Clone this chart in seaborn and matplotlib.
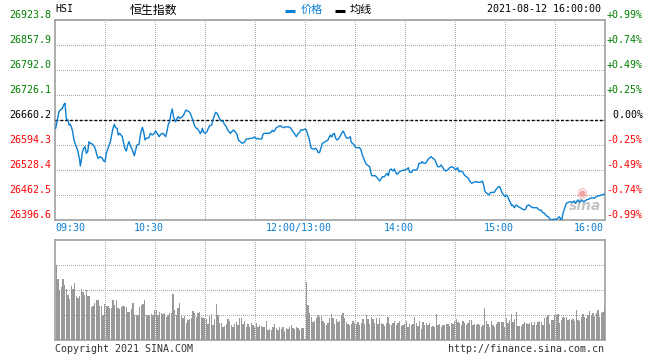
import matplotlib
matplotlib.use("Agg")
import matplotlib.pyplot as plt
import matplotlib.transforms as mtransforms
from matplotlib.lines import Line2D
import numpy as np
import seaborn as sns

# Axis levels (previous close in the middle, +/-0.99% at the edges)
prev_close = 26660.2
price_ticks = [26923.8, 26857.9, 26792.0, 26726.1, 26660.2, 26594.3, 26528.4, 26462.5, 26396.6]
pct_labels = ["+0.99%", "+0.74%", "+0.49%", "+0.25%", " 0.00%", "-0.25%", "-0.49%", "-0.74%", "-0.99%"]

# trading minutes since 09:30 (lunch break removed)
time_ticks = [0, 60, 150, 210, 270, 330]
time_labels = ["09:30", "10:30", "12:00/13:00", "14:00", "15:00", "16:00"]
grid_minutes = list(range(30, 330, 30))

# Intraday price
price_minutes = [
    0.4, 1.2, 2.4, 3.2, 4.4, 5.4, 6.0, 6.4, 6.8, 7.8, 8.4, 9.2, 10.4, 11.2, 12.0, 12.8, 13.8, 14.8, 15.2, 15.8,
    16.4, 17.2, 18.0, 18.8, 19.6, 20.4, 21.2, 22.4, 23.6, 24.4, 25.2, 26.0, 27.2, 28.4, 29.2, 30.0, 30.8, 31.6,
    32.4, 33.2, 34.0, 34.8, 35.6, 36.4, 37.2, 38.0, 38.8, 39.6, 40.4, 41.2, 42.0, 42.8, 43.6, 44.4, 45.2, 46.0,
    46.8, 47.6, 48.4, 49.2, 50.4, 51.2, 52.0, 52.4, 53.2, 54.0, 54.8, 56.4, 57.2, 58.4, 59.6, 60.4, 61.6, 62.4,
    63.6, 64.8, 65.6, 66.4, 67.2, 68.0, 68.8, 69.6, 70.4, 71.0, 71.6, 72.4, 73.2, 74.0, 74.8, 75.6, 76.4, 77.2,
    78.0, 78.8, 79.6, 80.4, 81.2, 82.0, 82.8, 83.6, 84.4, 85.6, 86.4, 87.2, 88.0, 88.4, 89.2, 90.0, 91.2, 92.0,
    92.8, 94.0, 94.8, 95.6, 96.4, 97.2, 98.0, 98.8, 99.6, 100.8, 101.6, 102.8, 103.6, 104.4, 105.2, 106.0,
    107.2, 108.0, 109.2, 110.0, 111.6, 112.4, 113.6, 114.8, 116.0, 117.2, 118.4, 119.6, 120.8, 121.6, 122.4,
    124.0, 124.8, 125.6, 128.4, 129.6, 130.4, 131.2, 132.0, 132.8, 133.6, 135.2, 136.0, 137.2, 138.8, 140.4,
    141.6, 142.4, 143.6, 144.8, 145.6, 146.8, 147.6, 148.8, 150.0, 150.8, 151.6, 152.4, 153.2, 153.6, 154.4,
    155.6, 156.4, 157.2, 158.0, 158.8, 159.6, 160.4, 161.6, 162.8, 163.6, 164.4, 165.2, 166.0, 166.8, 167.6,
    168.4, 169.2, 170.4, 171.2, 172.0, 172.8, 173.6, 174.4, 175.2, 176.4, 177.2, 177.6, 178.4, 179.2, 180.0,
    180.8, 182.8, 183.6, 184.4, 185.2, 186.0, 186.8, 188.0, 188.8, 189.6, 190.0, 192.0, 192.8, 193.6, 194.8,
    195.6, 196.4, 197.6, 198.4, 199.2, 200.0, 200.8, 201.6, 202.8, 203.6, 204.4, 205.2, 206.4, 207.6, 208.8,
    210.0, 211.2, 212.0, 212.8, 214.0, 214.8, 216.8, 217.6, 218.4, 219.6, 220.4, 221.2, 222.4, 223.6, 224.8,
    225.6, 226.8, 228.0, 228.8, 229.6, 230.8, 231.6, 232.4, 233.2, 234.4, 235.6, 236.8, 238.0, 239.2, 240.4,
    241.6, 242.4, 243.6, 244.8, 245.6, 246.8, 248.0, 248.8, 250.0, 251.2, 252.0, 253.6, 255.2, 256.4, 257.2,
    258.0, 259.2, 260.4, 261.2, 262.4, 263.6, 264.4, 265.2, 266.0, 266.8, 267.6, 268.4, 269.2, 270.0, 270.8,
    271.6, 272.4, 273.2, 274.0, 274.8, 275.6, 276.8, 278.0, 279.2, 280.4, 281.6, 282.4, 283.2, 284.4, 285.6,
    286.8, 288.0, 289.2, 290.4, 291.6, 292.4, 293.6, 294.8, 296.0, 296.8, 298.0, 299.2, 300.4, 301.2, 302.4,
    303.2, 304.0, 304.8, 305.8, 306.8, 308.0, 309.2, 310.4, 311.6, 312.4, 313.6, 314.8, 316.0, 317.2, 318.8,
    320.4, 322.0, 323.6, 324.8, 326.4, 328.0, 329.2, 330.0,
]
prices = [
    26638.3, 26655.7, 26682.1, 26686.6, 26691.0, 26701.6, 26704.2, 26682.1, 26662.8, 26660.2, 26647.0, 26648.9,
    26633.8, 26612.0, 26598.8, 26589.8, 26576.6, 26554.8, 26538.9, 26554.8, 26575.1, 26585.6, 26589.8, 26572.4,
    26576.6, 26603.0, 26598.8, 26596.9, 26589.8, 26581.1, 26566.1, 26559.2, 26563.5, 26559.2, 26552.1, 26550.3,
    26572.4, 26583.0, 26592.5, 26603.0, 26620.7, 26638.3, 26648.9, 26639.9, 26638.3, 26620.7, 26625.1, 26620.7,
    26616.2, 26598.8, 26583.8, 26578.5, 26594.3, 26603.0, 26592.5, 26585.6, 26576.6, 26566.1, 26581.1, 26594.3,
    26596.2, 26620.7, 26633.8, 26641.0, 26629.4, 26607.5, 26612.0, 26613.5, 26625.1, 26620.7, 26625.1, 26631.2,
    26623.3, 26616.2, 26623.3, 26625.1, 26620.7, 26616.2, 26631.2, 26648.9, 26655.7, 26677.9, 26689.2, 26671.5,
    26662.8, 26655.7, 26664.7, 26668.9, 26664.7, 26666.3, 26668.9, 26673.4, 26682.1, 26686.6, 26683.9, 26682.1,
    26677.9, 26668.9, 26657.6, 26647.0, 26639.9, 26636.5, 26631.2, 26624.1, 26631.2, 26638.3, 26627.8, 26625.1,
    26629.4, 26638.3, 26645.2, 26647.0, 26660.2, 26671.5, 26680.5, 26677.9, 26671.5, 26662.8, 26657.6, 26657.6,
    26648.9, 26642.5, 26633.8, 26629.4, 26625.1, 26629.4, 26633.8, 26629.4, 26622.5, 26607.5, 26601.4, 26598.8,
    26601.4, 26610.1, 26610.1, 26612.0, 26612.0, 26615.4, 26610.1, 26612.0, 26610.1, 26610.1, 26622.5, 26625.1,
    26625.1, 26627.8, 26633.0, 26629.4, 26633.8, 26639.9, 26641.7, 26645.2, 26642.5, 26639.9, 26642.5, 26641.7,
    26638.3, 26631.2, 26625.1, 26616.2, 26622.5, 26627.8, 26634.6, 26633.8, 26636.5, 26633.8, 26622.5, 26612.0,
    26596.2, 26587.2, 26583.8, 26583.8, 26585.6, 26581.1, 26574.0, 26575.1, 26587.2, 26598.8, 26601.4, 26604.8,
    26606.7, 26613.5, 26620.7, 26615.4, 26622.5, 26625.1, 26612.0, 26607.5, 26612.0, 26618.8, 26625.1, 26631.2,
    26625.1, 26616.2, 26612.0, 26613.5, 26616.2, 26603.0, 26598.8, 26596.2, 26589.8, 26587.2, 26587.2, 26581.1,
    26567.9, 26559.2, 26550.3, 26543.4, 26539.7, 26537.1, 26519.7, 26513.4, 26513.4, 26510.7, 26506.5, 26499.4,
    26504.7, 26510.7, 26510.7, 26515.2, 26519.7, 26513.4, 26528.4, 26531.0, 26525.8, 26531.0, 26522.3, 26517.1,
    26522.3, 26525.8, 26528.4, 26527.6, 26531.0, 26534.5, 26522.3, 26522.3, 26528.4, 26528.4, 26532.9, 26546.1,
    26546.1, 26550.3, 26546.1, 26546.1, 26554.8, 26560.8, 26563.5, 26559.2, 26554.8, 26546.1, 26537.1, 26537.1,
    26541.6, 26537.1, 26531.0, 26525.8, 26528.4, 26534.5, 26537.1, 26534.5, 26528.4, 26534.5, 26523.9, 26525.8,
    26522.3, 26515.2, 26510.7, 26506.5, 26499.4, 26493.3, 26496.0, 26497.6, 26496.0, 26496.0, 26499.4, 26488.9,
    26471.2, 26467.0, 26462.5, 26468.6, 26469.6, 26469.6, 26475.7, 26480.2, 26484.4, 26484.4, 26475.7, 26467.0,
    26462.5, 26458.0, 26462.5, 26458.0, 26449.3, 26443.3, 26434.3, 26436.1, 26429.0, 26436.1, 26431.7, 26429.0,
    26425.6, 26423.0, 26425.6, 26434.3, 26436.1, 26431.7, 26429.0, 26429.0, 26429.0, 26423.0, 26423.0, 26416.9,
    26414.3, 26407.9, 26405.3, 26399.2, 26396.6, 26399.2, 26396.6, 26399.2, 26405.3, 26401.1, 26396.6, 26414.3,
    26427.4, 26440.6, 26443.3, 26444.8, 26443.3, 26446.7, 26440.6, 26449.3, 26443.3, 26449.3, 26444.8, 26449.3,
    26452.0, 26455.4, 26453.8, 26458.0, 26460.7, 26462.5, 26464.4, 26464.4,
]

# Per-minute volume (relative units, panel top = 100)
vol_morning = [
    75, 61, 50, 53, 61, 55, 51, 45, 41, 54, 51, 57, 44, 42, 44, 51, 48, 45, 50, 44,
    44, 33, 34, 37, 40, 40, 34, 34, 25, 36, 34, 34, 32, 32, 40, 35, 40, 32, 31, 33,
    34, 34, 33, 28, 28, 31, 37, 25, 25, 25, 33, 35, 36, 40, 25, 25, 25, 26, 25, 30,
    30, 25, 28, 27, 26, 27, 23, 25, 27, 27, 46, 30, 25, 32, 37, 24, 22, 24, 17, 20,
    21, 22, 29, 27, 23, 27, 28, 23, 22, 22, 21, 16, 24, 26, 15, 21, 36, 25, 17, 17,
    13, 14, 16, 21, 19, 15, 13, 16, 18, 15, 22, 22, 16, 19, 13, 16, 13, 17, 15, 13,
    17, 13, 15, 14, 13, 13, 19, 10, 11, 10, 13, 16, 12, 10, 13, 11, 13, 9, 12, 11,
    13, 15, 12, 11, 13, 12, 10, 12, 12, 1,
]
vol_afternoon = [
    58, 35, 27, 23, 18, 19, 22, 25, 23, 24, 19, 17, 15, 17, 22,
    26, 22, 16, 21, 18, 19, 24, 27, 22, 18, 16, 15, 16, 19, 17, 16, 18, 15, 17, 21,
    16, 25, 21, 16, 23, 21, 17, 22, 16, 22, 17, 16, 14, 17, 23, 16, 15, 17, 19, 15,
    17, 19, 14, 15, 16, 19, 13, 16, 15, 16, 23, 17, 14, 19, 11, 18, 15, 17, 15, 17,
    13, 14, 13, 26, 15, 16, 13, 15, 15, 16, 16, 14, 17, 16, 19, 21, 18, 17, 15, 19,
    17, 15, 17, 20, 20, 15, 16, 15, 16, 15, 13, 15, 32, 19, 16, 13, 19, 15, 13, 16,
    18, 18, 18, 18, 13, 22, 17, 20, 26, 18, 21, 28, 14, 14, 14, 16, 18, 17, 16, 17,
    18, 15, 18, 15, 18, 19, 18, 15, 22, 23, 25, 16, 20, 20, 25, 25, 26, 17, 20, 23,
    22, 23, 20, 21, 20, 21, 19, 30, 20, 19, 23, 26, 23, 22, 25, 29, 25, 27, 24, 27,
    30, 23, 27, 28, 33,
]

BLUE = "#0b80d2"
GREEN = "#008000"
RED = "#ff0000"
GRID = "#aaaaaa"
FRAME = "#a0a0a0"

sns.set_style("white")
plt.rcParams["font.family"] = ["DejaVu Sans Mono", "Noto Sans CJK SC"]
plt.rcParams["font.size"] = 7.2

fig = plt.figure(figsize=(6.6, 3.6), dpi=100)
ax = fig.add_axes([55 / 660, 140 / 360, 550 / 660, 200 / 360])
ax_vol = fig.add_axes([55 / 660, 20 / 360, 550 / 660, 100 / 360])

# dotted grid: 1px dot, 2px gap
grid_kw = dict(color=GRID, linestyle=(0, (1, 2)), linewidth=0.72, antialiased=False)

# Price panel
sns.lineplot(x=price_minutes, y=prices, ax=ax, color=BLUE, linewidth=1.0,
             sort=False, estimator=None, zorder=4)
ax.axhline(prev_close, color="black", linestyle=(0, (2, 1.5)), linewidth=1.0, zorder=3)
ax.set_xlim(0, 330)
ax.set_ylim(price_ticks[-1], price_ticks[0])
ax.set_xticks(grid_minutes)
ax.set_xticklabels([])
ax.set_yticks(price_ticks)
ax.set_yticklabels([f"{v:.1f}" for v in price_ticks])
ax.tick_params(length=0, pad=2.4, labelsize=7.2)
ax.grid(True, **grid_kw)
ax.set_xlabel("")
ax.set_ylabel("")
for lbl, v in zip(ax.get_yticklabels(), price_ticks):
    lbl.set_color(GREEN if v > prev_close else RED if v < prev_close else "black")
    lbl.set_va("bottom")

ax_r = ax.twinx()
ax_r.set_ylim(price_ticks[-1], price_ticks[0])
ax_r.set_yticks(price_ticks)
ax_r.set_yticklabels(pct_labels)
ax_r.tick_params(length=0, pad=1.2, labelsize=7.2)
for lbl, v in zip(ax_r.get_yticklabels(), price_ticks):
    lbl.set_color(GREEN if v > prev_close else RED if v < prev_close else "black")
    lbl.set_va("bottom")
for s in ax_r.spines.values():
    s.set_visible(False)

for m, lab in zip(time_ticks, time_labels):
    if m == 0:
        ha, dx = "left", 0
    elif m == 330:
        ha, dx = "right", -1.5
    else:
        ha, dx = "center", -6
    tr = mtransforms.offset_copy(ax.get_xaxis_transform(), fig=fig, x=dx, y=-3, units="dots")
    ax.text(m, 0, lab, transform=tr, ha=ha, va="top", color=BLUE, fontsize=7.2)

# sina watermark
ax.text(0.964, 0.07, "sina", transform=ax.transAxes, ha="center", va="center",
        fontsize=10, fontstyle="italic", fontweight="bold", color="#c4c4c4",
        family="DejaVu Sans", zorder=2)
ax.text(0.957, 0.13, "\u25c9", transform=ax.transAxes, ha="center", va="center",
        fontsize=9, color="#f2a0a0", family="DejaVu Sans", zorder=2)

# Volume panel
vol = vol_morning + vol_afternoon
vol_minutes = np.arange(len(vol)) + 0.8
sns.barplot(x=vol_minutes, y=vol, ax=ax_vol, native_scale=True, orient="x",
            color="#999999", saturation=1, width=0.8, errorbar=None, zorder=3)
for p in ax_vol.patches:
    p.set_antialiased(False)
    p.set_linewidth(0)
ax_vol.set_xlim(0, 330)
ax_vol.set_ylim(0, 100)
ax_vol.set_xticks(grid_minutes)
ax_vol.set_xticklabels([])
ax_vol.set_yticks([25, 50, 75])
ax_vol.set_yticklabels([])
ax_vol.tick_params(length=0)
ax_vol.grid(True, **grid_kw)
ax_vol.set_xlabel("")
ax_vol.set_ylabel("")

for a in (ax, ax_vol):
    a.set_axisbelow(True)
    for s in a.spines.values():
        s.set_visible(True)
        s.set_color(FRAME)
        s.set_linewidth(1.2)

# Header
fig.text(55 / 660, 1 - 9.5 / 360, "HSI", ha="left", va="center", fontsize=7.2, color="black")
fig.text(130 / 660, 1 - 10 / 360, "恒生指数", ha="left", va="center", fontsize=8.6,
         family=["Noto Sans CJK SC", "DejaVu Sans"], color="black")
fig.add_artist(Line2D([285 / 660, 295 / 660], [1 - 11 / 360] * 2, transform=fig.transFigure,
                      color=BLUE, linewidth=2.2, solid_capstyle="butt"))
fig.text(301 / 660, 1 - 10 / 360, "价格", ha="left", va="center", fontsize=8,
         family=["Noto Sans CJK SC", "DejaVu Sans"], color=BLUE)
fig.add_artist(Line2D([335 / 660, 345 / 660], [1 - 11 / 360] * 2, transform=fig.transFigure,
                      color="black", linewidth=2.2, solid_capstyle="butt"))
fig.text(350 / 660, 1 - 10 / 360, "均线", ha="left", va="center", fontsize=8,
         family=["Noto Sans CJK SC", "DejaVu Sans"], color="black")
fig.text(601 / 660, 1 - 9.5 / 360, "2021-08-12 16:00:00", ha="right", va="center",
         fontsize=7.2, color="black")

# Footer
fig.text(55 / 660, 1 - 349 / 360, "Copyright 2021 SINA.COM", ha="left", va="center",
         fontsize=7.2, color="#333333")
fig.text(604 / 660, 1 - 349 / 360, "http://finance.sina.com.cn", ha="right", va="center",
         fontsize=7.2, color="#333333")

fig.savefig("out.png", dpi=100, facecolor="white")
